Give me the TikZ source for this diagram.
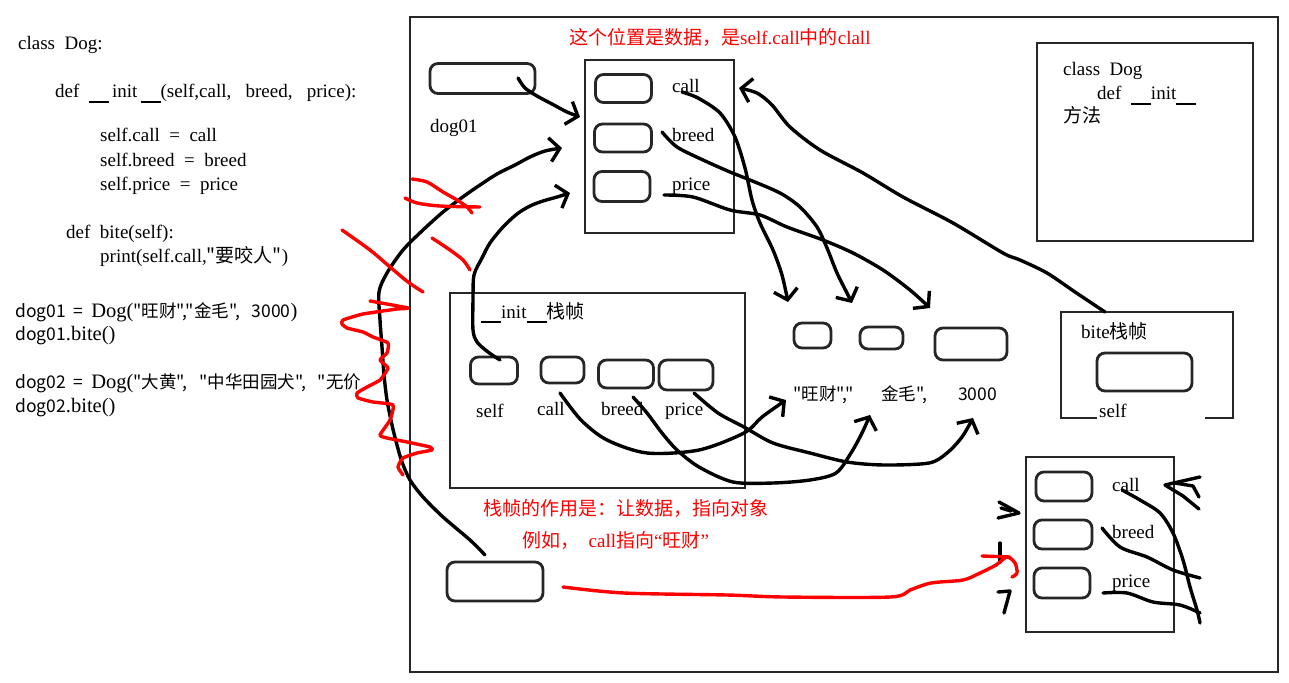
\documentclass[tikz,border=0pt]{standalone}
\usepackage{fontspec}
\setmainfont{Liberation Serif}
\newfontfamily\cjk{Noto Sans CJK SC}
\usetikzlibrary{arrows.meta}
\newcommand\uu{\rule[-5pt]{20pt}{1.6pt}}
\newcommand\rmbig{\rmfamily\fontsize{20.5}{24}\selectfont}
\begin{document}
\begin{tikzpicture}[x=1pt,y=-1pt,
  box/.style={draw=black!85, line width=2.8pt},
  slot/.style={draw=black!85, line width=2.8pt, rounded corners=8pt, inner sep=0pt},
  t/.style={inner sep=0pt, anchor=base west, font=\fontsize{19}{23}\selectfont},
  ct/.style={inner sep=0pt, anchor=base west, font=\cjk\fontsize{17.5}{21}\selectfont},
  rt/.style={inner sep=0pt, anchor=base west, text=red, font=\fontsize{19}{23}\selectfont},
  ink/.style={line width=3.4pt, line cap=round, line join=round},
  redink/.style={line width=3.4pt, line cap=round, line join=round, draw=red},
  tip/.style={-{Straight Barb[length=10pt,width=24pt]}},
]
\useasboundingbox (0,0) rectangle (1289,682);
\fill[white] (0,0) rectangle (1289,682);

% ---------- code on the left ----------
\node[t] (c1) at (18,50) {class \ Dog:};
\node[t] (c2) at (55,98) {def \ \uu\,init\,\uu(self,call, \ \ breed, \ \ price):};
\node[t] (c3) at (100,142) {self.call \ = \ call};
\node[t] (c4) at (100,166) {self.breed \ = \ breed};
\node[t] (c5) at (100,190) {self.price \ = \ price};
\node[t] (c6) at (66,238) {def \ bite(self):};
\node[t] (c7) at (100,262) {print(self.call,{\cjk"要咬人"})};
\node[ct] (c8) at (15,317) {dog01 \ = \ {\rmbig Dog(}"旺财","金毛", \ \ 3000{\rmbig )}};
\node[ct] (c9) at (15,340) {dog01{\rmbig .bite()}};
\node[ct] (c10) at (15,388) {dog02 \ = \ {\rmbig Dog(}"大黄", \ \ "中华田园犬", \ \ "无价};
\node[ct] (c11) at (15,412) {dog02{\rmbig .bite()}};

% ---------- outer frame ----------
\draw[box] (410,17) rectangle (1278,672);

% ---------- object 1 ----------
\node[rt] (title) at (569,45) {{\cjk 这个位置是数据，是}self.call{\cjk 中的}clall};
\node[slot, minimum width=105pt, minimum height=30pt] (d1) at (482.5,78.5) {};
\node[t] (d1l) at (430,132) {dog01};
\draw[box] (585,60) rectangle (734,233);
\node[slot, minimum width=56pt, minimum height=28pt] (o1a) at (623.5,88.5) {};
\node[slot, minimum width=57pt, minimum height=28pt] (o1b) at (623,138) {};
\node[slot, minimum width=56pt, minimum height=30pt] (o1c) at (622,186.5) {};
\node[t] (o1al) at (672,93) {call};
\node[t] (o1bl) at (672,142) {breed};
\node[t] (o1cl) at (672,190) {price};

% ---------- class Dog box ----------
\draw[box] (1037,43) rectangle (1253,241);
\node[t] (k1) at (1063,76) {class \ Dog};
\node[t] (k2) at (1097,100) {def \ \uu init\uu};
\node[t] (k3) at (1063,123) {\cjk 方法};

% ---------- __init__ frame ----------
\draw[box] (450,293) rectangle (745,488);
\node[t] (ft) at (481,318) {\uu init\uu{\cjk 栈帧}};
\node[slot, minimum width=47pt, minimum height=27pt] (fs) at (494,370.5) {};
\node[slot, minimum width=43pt, minimum height=26pt] (fc) at (562.5,370) {};
\node[slot, minimum width=55pt, minimum height=28pt] (fb) at (626,374) {};
\node[slot, minimum width=54pt, minimum height=30pt] (fp) at (686,375) {};
\node[t] (fsl) at (476,417) {self};
\node[t] (fcl) at (537,415) {call};
\node[t] (fbl) at (601,415) {breed};
\node[t] (fpl) at (665,415) {price};

% ---------- data ----------
\node[slot, minimum width=37pt, minimum height=25pt] (v1) at (812.5,335.5) {};
\node[slot, minimum width=43pt, minimum height=22pt] (v2) at (881.5,338) {};
\node[slot, minimum width=72pt, minimum height=32pt] (v3) at (971,344) {};
\node[ct] (v1l) at (793,400) {"旺财","};
\node[ct] (v2l) at (881,400) {金毛",};
\node[ct] (v3l) at (958,400) {3000};

% ---------- bite frame ----------
\draw[box] (1097,418) -- (1061,418) -- (1061,312) -- (1233,312) -- (1233,418) -- (1205,418);
\coordinate (btop) at (1105,312);
\node[t] (bt) at (1081,338) {bite{\cjk 栈帧}};
\node[slot, minimum width=95pt, minimum height=38pt] (bs) at (1144.5,372) {};
\node[t] (bsl) at (1099,417) {self};

% ---------- object 2 ----------
\draw[box] (1026,457) rectangle (1174,632);
\node[slot, minimum width=56pt, minimum height=29pt] (o2a) at (1064,486.5) {};
\node[slot, minimum width=58pt, minimum height=29pt] (o2b) at (1063,534.5) {};
\node[slot, minimum width=56pt, minimum height=30pt] (o2c) at (1062,583) {};
\node[t] (o2al) at (1112,491) {call};
\node[t] (o2bl) at (1112,538) {breed};
\node[t] (o2cl) at (1112,587) {price};

% ---------- dog02 ----------
\node[slot, minimum width=96pt, minimum height=39pt] (d2) at (495,581.5) {};

% ---------- red notes ----------
\node[rt] (n1) at (483,515) {\cjk 栈帧的作用是：让数据，指向对象};
\node[rt] (n2) at (522,547) {{\cjk 例如，} \ call{\cjk 指向}“{\cjk 旺财}”};

% ---------- named end points ----------
\coordinate (e1) at (580,117);
\coordinate (e2) at (562,148);
\coordinate (e3) at (570,193);
\coordinate (e4) at (788,302);
\coordinate (e5) at (852,303);
\coordinate (e6) at (930,308);
\coordinate (e7) at (739,88);
\coordinate (e8) at (786,400);
\coordinate (e9) at (870,415);
\coordinate (e10) at (973,418);

% ---------- black connectors ----------
\draw[ink,tip] plot[smooth] coordinates {(518,78) (525,88) (537,96) (552,104) (567,112) (e1)};
\draw[ink,tip] plot[smooth] coordinates {(485,555) (470,540) (443,517) (423,497) (410,480) (402,462) (397,445) (392,425) (387,400) (384,375) (382,347) (380,320) (379,292) (387,273) (403,250) (423,230) (443,212) (460,199) (477,187) (497,174) (515,165) (530,157) (545,151) (e2)};
\draw[ink,tip] plot[smooth] coordinates {(500,360) (488,352) (477,342) (473,330) (473,300) (474,275) (482,258) (490,243) (503,227) (517,214) (530,206) (543,201) (557,197) (e3)};
\draw[ink,tip] plot[smooth] coordinates {(682,92) (698,98) (720,113) (735,137) (745,168) (752,200) (760,223) (773,250) (782,275) (e4)};
\draw[ink,tip] plot[smooth] coordinates {(662,132) (677,147) (703,160) (730,172) (750,180) (780,193) (800,207) (817,227) (827,248) (837,273) (847,293) (e5)};
\draw[ink,tip] plot[smooth] coordinates {(664,195) (693,197) (730,210) (760,215) (787,227) (823,240) (853,253) (883,270) (910,290) (e6)};
\draw[ink,tip] plot[smooth] coordinates {(btop) (1075,292) (1047,273) (1020,260) (1003,253) (953,223) (903,197) (863,173) (820,150) (790,127) (772,105) (757,93) (e7)};
\draw[ink,tip] plot[smooth] coordinates {(560,393) (581,420) (607,440) (647,453) (699,450) (744,433) (762,417) (e8)};
\draw[ink,tip] plot[smooth] coordinates {(633,397) (647,413) (662,433) (677,450) (699,467) (733,482) (773,483) (810,480) (836,473) (851,453) (862,433) (e9)};
\draw[ink,tip] plot[smooth] coordinates {(694,393) (718,413) (744,427) (773,443) (810,453) (847,462) (884,465) (929,463) (947,453) (962,437) (e10)};

% object 2 strokes
\draw[ink] plot[smooth] coordinates {(1122,490) (1140,500) (1160,513) (1173,533) (1183,560) (1190,587) (1197,610) (1200,623)};
\draw[ink] plot[smooth] coordinates {(1102,528) (1120,547) (1147,557) (1173,570) (1200,578)};
\draw[ink] plot[smooth] coordinates {(1103,593) (1127,593) (1153,602) (1180,605) (1200,613)};
\draw[ink] (1200,477) -- (1165,485) -- (1183,496) -- (1199,509);
\draw[ink] (1175,483) -- (1193,486) -- (1199,497);
\draw[ink] (999,502) -- (1019,513) -- (998,518);
\draw[ink] (1001,508) -- (1011,511);
\draw[ink] (1000,543) -- (1000,562);
\draw[ink] (998,592) -- (1010,591) -- (1004,613);

% ---------- red strokes ----------
\draw[redink] plot[smooth] coordinates {(563,587) (624,593) (727,595) (784,597) (890,597) (910,590) (931,583) (963,580) (980,573) (996,565) (1007,557) (1015,563) (1017,573) (1012,577)};
\draw[redink] (982,556) -- (1010,557);
\draw[redink] plot[smooth] coordinates {(412,179) (427,182) (443,192) (457,200) (467,207) (472,213)};
\draw[redink] plot[smooth] coordinates {(405,198) (417,203) (440,206) (480,207)};
\draw[redink] plot[smooth] coordinates {(342,230) (370,250) (390,267) (408,282) (423,292)};
\draw[redink] plot[smooth] coordinates {(432,238) (450,250) (463,260) (470,270)};
\draw[redink] plot[smooth, tension=0.3] coordinates {(370,301) (408,308) (397,309) (363,314) (343,320) (342,324) (347,328) (363,332) (373,337) (388,343) (387,353) (380,360) (388,368) (380,380) (367,387) (357,393) (358,398) (373,402) (393,405) (390,420) (380,435) (387,438) (407,442) (430,447) (432,450) (417,453) (403,458) (398,467) (403,475)};
\end{tikzpicture}
\end{document}
